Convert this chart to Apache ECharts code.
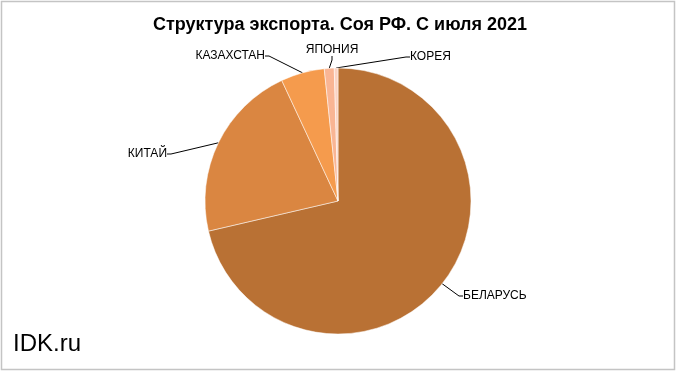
<!DOCTYPE html>
<html><head><meta charset="utf-8">
<script src="https://cdn.jsdelivr.net/npm/echarts@6/dist/echarts.min.js"></script>
<style>html,body{margin:0;padding:0;background:#fff}#c{width:680px;height:375px}</style>
</head><body><div id="c"></div>
<script>
const categories = ['БЕЛАРУСЬ', 'КИТАЙ', 'КАЗАХСТАН', 'ЯПОНИЯ', 'КОРЕЯ'];
const shares = [71.4, 21.7, 5.3, 1.2, 0.45];
const colors = ['#B97134', '#DA8641', '#F59B4D', '#F9B594', '#FBD3C3'];

// label placement (layout config, not data)
const labelPlace = [
  {x: 463, y: 296, align: 'left'},
  {x: 167, y: 154, align: 'right'},
  {x: 265, y: 56, align: 'right'},
  {x: 332, y: 50, align: 'center'},
  {x: 410, y: 57, align: 'left'}
];

const chart = echarts.init(document.getElementById('c'), null, {renderer: 'canvas'});
chart.setOption({
  animation: false,
  color: colors,
  title: {
    text: 'Структура экспорта. Соя РФ. С июля 2021',
    left: 'center', top: 11,
    textStyle: {fontFamily: 'Arial, Liberation Sans', fontSize: 18, fontWeight: 'bold', color: '#000'}
  },
  graphic: [
    {type: 'rect', shape: {x: 1.5, y: 1.5, width: 673, height: 368}, style: {fill: 'none', stroke: '#c4c4c4', lineWidth: 1.5}, silent: true},
    {type: 'text', left: 13, top: 332, style: {text: 'IDK.ru', font: '24px Arial, "Liberation Sans"', fill: '#000'}}
  ],
  series: [{
    type: 'pie',
    center: [338, 201],
    radius: 133,
    startAngle: 90,
    clockwise: true,
    avoidLabelOverlap: false,
    minShowLabelAngle: 0,
    itemStyle: {borderColor: '#fff', borderWidth: 0.5},
    label: {show: true, position: 'outside', formatter: '{b}', fontFamily: 'Arial, Liberation Sans', fontSize: 12, color: '#000'},
    labelLine: {show: true, length: 10, length2: 4, lineStyle: {color: '#000', width: 1}},
    labelLayout: function (p) {
      const s = labelPlace[p.dataIndex];
      return {x: s.x, y: s.y, align: s.align, verticalAlign: 'middle', hideOverlap: false, moveOverlap: null};
    },
    data: categories.map((n, i) => ({name: n, value: shares[i]}))
  }]
});
</script></body></html>
